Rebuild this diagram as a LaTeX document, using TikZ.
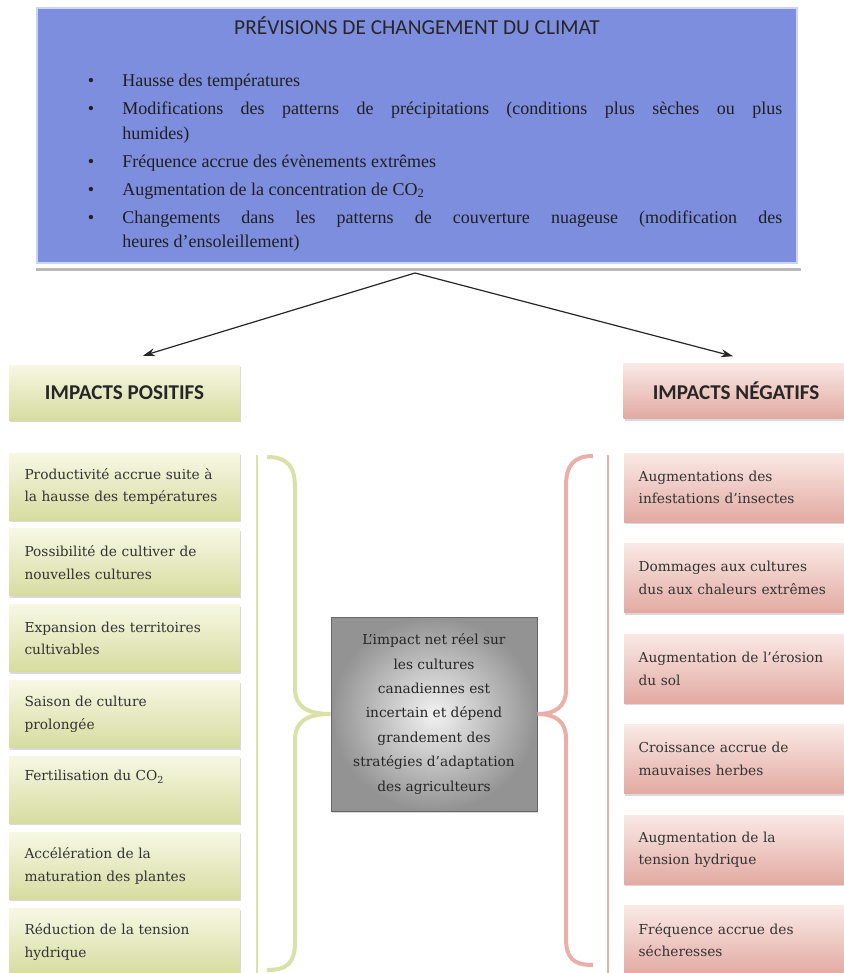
\documentclass[tikz,border=0pt]{standalone}
\usepackage{fontspec}
\usepackage{xcolor}
\usepackage{tikz}
\usetikzlibrary{arrows.meta, positioning, calc, shadows}
\setmainfont{Liberation Serif}
\newfontfamily\headfont{Carlito}
\newfontfamily\cellfont{DejaVu Serif}
\definecolor{prevblue}{RGB}{125, 142, 222}
\definecolor{prevedge}{RGB}{205, 212, 242}
\definecolor{poslight}{RGB}{247, 248, 228}
\definecolor{posdark}{RGB}{214, 220, 160}
\definecolor{posline}{RGB}{218, 225, 166}
\definecolor{neglight}{RGB}{250, 233, 229}
\definecolor{negdark}{RGB}{226, 170, 162}
\definecolor{negline}{RGB}{232, 176, 169}

\newenvironment{forecastlist}{\begin{list}{\textbullet}{%
  \setlength{\leftmargin}{52.5pt}\setlength{\labelwidth}{8pt}%
  \setlength{\labelsep}{21pt}\setlength{\itemsep}{2.6pt}%
  \setlength{\parsep}{0pt}\setlength{\topsep}{0pt}\setlength{\partopsep}{0pt}}}%
  {\end{list}}

\tikzset{
  prevbox/.style={fill=prevblue, draw=prevedge, line width=1pt,
    minimum width=570pt, minimum height=191.25pt},
  prevtitle/.style={font=\headfont\fontsize{16}{19}\selectfont, text=black!85, inner sep=0pt},
  prevlist/.style={text width=547.5pt, align=justify, inner sep=0pt, text=black!88,
    font=\fontsize{13.5}{18.4}\selectfont},
  head/.style={minimum height=41.25pt, inner sep=0pt, text=black!85,
    font=\headfont\bfseries\fontsize{15.8}{18}\selectfont,
    drop shadow={shadow xshift=0.8pt, shadow yshift=-1.5pt, opacity=0.3}},
  poshead/.style={head, minimum width=173.25pt, top color=poslight, bottom color=posdark},
  neghead/.style={head, minimum width=168.75pt, top color=neglight, bottom color=negdark},
  poscell/.style={text width=150pt, align=left, inner xsep=11.6pt, inner ysep=0pt,
    minimum height=50.25pt, top color=poslight, bottom color=posdark, text=black!80,
    font=\cellfont\fontsize{10.3}{17}\selectfont,
    drop shadow={shadow xshift=0.8pt, shadow yshift=-1.5pt, opacity=0.3}},
  negcell/.style={text width=146pt, align=left, inner xsep=11pt, inner ysep=0pt,
    minimum height=51.75pt, top color=neglight, bottom color=negdark, text=black!80,
    font=\cellfont\fontsize{10.3}{17}\selectfont,
    drop shadow={shadow xshift=0.8pt, shadow yshift=-1.5pt, opacity=0.3}},
  outcome/.style={minimum width=154.5pt, minimum height=145.5pt, inner sep=0pt,
    inner color=gray!10, outer color=gray!85, draw=black!60, line width=0.6pt,
    align=center, text=black!85, font=\cellfont\fontsize{10.3}{18.3}\selectfont,
    drop shadow={shadow xshift=0.8pt, shadow yshift=-1.5pt, opacity=0.3}},
  flow/.style={-{Stealth[length=9pt, width=6pt]}, line width=0.9pt, black!85},
  posrule/.style={posline, line width=2.2pt},
  negrule/.style={negline, line width=2.2pt},
  posbrace/.style={posline, line width=3pt},
  negbrace/.style={negline, line width=3pt}
}

\begin{document}
\begin{tikzpicture}[x=0.75pt, y=-0.75pt]
\useasboundingbox (0,0) rectangle (843,973);

% climate forecasts
\node[prevbox] (prev) at (417,135.5) {};
\draw[gray!55, line width=2pt] ($(prev.south west)+(0,6)$) -- ($(prev.south east)+(3,6)$);
\node[prevtitle, anchor=base] (prevtitle) at (417,34.5) {PRÉVISIONS DE CHANGEMENT DU CLIMAT};
\node[prevlist, anchor=base west] (prevlist) at (52,62) {%
  \begin{forecastlist}
  \item Hausse des températures
  \item Modifications des patterns de précipitations (conditions plus sèches ou plus\linebreak humides)
  \item Fréquence accrue des évènements extrêmes
  \item Augmentation de la concentration de CO\textsubscript{2}
  \item Changements dans les patterns de couverture nuageuse (modification des\linebreak heures d’ensoleillement)
  \end{forecastlist}};

% the two sides
\node[poshead] (pos) at (124.5,392.5) {IMPACTS POSITIFS};
\node[neghead] (neg) at (736,391) {IMPACTS NÉGATIFS};
\coordinate (split) at (415,273);
\draw[flow] (split) -- ($(pos.north)+(18.5,-9)$);
\draw[flow] (split) -- ($(neg.north)+(-3,-7)$);

% positive impacts
\node[poscell] (p1) at (124.5,486.5) {Productivité accrue suite à\\la hausse des températures};
\node[poscell, below=6.25pt of p1] (p2) {Possibilité de cultiver de\\nouvelles cultures};
\node[poscell, below=6.25pt of p2] (p3) {Expansion des territoires\\cultivables};
\node[poscell, below=6.25pt of p3] (p4) {Saison de culture\\prolongée};
\node[poscell, below=6.25pt of p4] (p5) {Fertilisation du CO\textsubscript{2}\\\strut};
\node[poscell, below=6.25pt of p5] (p6) {Accélération de la\\maturation des plantes};
\node[poscell, below=6.25pt of p6] (p7) {Réduction de la tension\\hydrique};

% negative impacts
\node[negcell] (n1) at (736,487.5) {Augmentations des\\infestations d’insectes};
\node[negcell, below=15.75pt of n1] (n2) {Dommages aux cultures\\dus aux chaleurs extrêmes};
\node[negcell, below=15.75pt of n2] (n3) {Augmentation de l’érosion\\du sol};
\node[negcell, below=15.75pt of n3] (n4) {Croissance accrue de\\mauvaises herbes};
\node[negcell, below=15.75pt of n4] (n5) {Augmentation de la\\tension hydrique};
\node[negcell, below=15.75pt of n5] (n6) {Fréquence accrue des\\sécheresses};

% net impact
\node[outcome] (net) at (434,714) {L’impact net réel sur\\les cultures\\canadiennes est\\incertain et dépend\\grandement des\\stratégies d’adaptation\\des agriculteurs};

% rules and braces
\draw[posrule] (257,455) -- (257,973);
\draw[negrule] (608,455) -- (608,973);
\draw[posbrace] (267,457) .. controls (288,457) and (295,467) .. (295,488) -- (295,688)
  .. controls (295,706) and (306,714) .. (net.west) .. controls (306,714) and (295,722) .. (295,740)
  -- (295,942) .. controls (295,962) and (288,970) .. (267,970);
\draw[negbrace] (593,456) .. controls (573,456) and (566,466) .. (566,486) -- (566,690)
  .. controls (566,706) and (556,714) .. (net.east) .. controls (556,714) and (566,722) .. (566,738)
  -- (566,938) .. controls (566,958) and (573,965) .. (593,965);
\end{tikzpicture}
\end{document}
